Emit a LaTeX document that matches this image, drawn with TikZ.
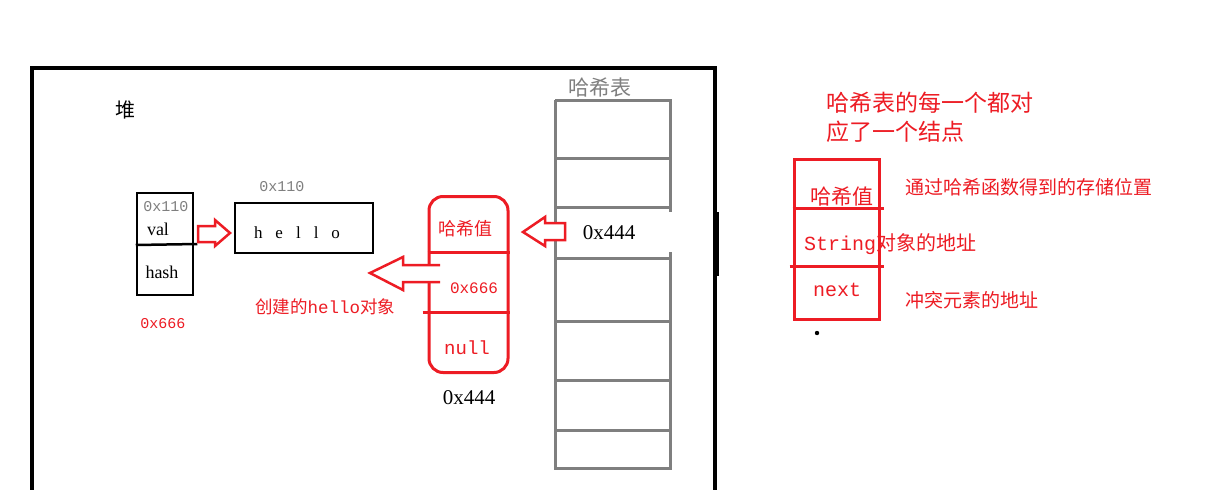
\documentclass[tikz,border=0pt]{standalone}
\usepackage{fontspec}
\setmainfont{Liberation Serif}
\newfontfamily\cjk{Noto Sans CJK SC}
\newfontfamily\mono{Liberation Mono}
\definecolor{pred}{HTML}{ED1C24}
\definecolor{pgray}{HTML}{7F7F7F}
\tikzset{
  blkbox/.style={draw=black, line width=2.5pt, inner sep=0pt},
  redbox/.style={draw=pred, line width=3pt, inner sep=0pt},
  hollowarrow/.style={draw=pred, line width=2.5pt, line join=miter, fill=white},
  gline/.style={draw=pgray, line width=3pt},
  lbl/.style={inner sep=0pt, anchor=center},
  redtxt/.style={lbl, text=pred},
}
\begin{document}
\begin{tikzpicture}[x=1pt,y=-1pt]
\useasboundingbox (0,0) rectangle (1205,490);
\fill[white] (0,0) rectangle (1205,490);

% heap border
\draw[line width=4pt] (32,495) -- (32,68) -- (715,68) -- (715,495);
\draw[line width=3pt] (717.5,212) -- (717.5,276);
\node[lbl, font=\cjk\fontsize{20}{22}\selectfont] (heap) at (125,110) {堆};

% object node (val / hash)
\node[blkbox, minimum width=56pt, minimum height=102pt] (obj) at (165,244) {};
\draw[line width=2.5pt] (obj.west |- 0,245) -- ([xshift=3pt]obj.east |- 0,244);
\node[lbl, text=pgray, font=\mono\fontsize{15}{17}\selectfont] (objaddr) at (166,207) {0x110};
\node[lbl, font=\fontsize{18}{20}\selectfont] (val) at (158,229) {val};
\node[lbl, font=\fontsize{18}{20}\selectfont] (hash) at (162,272) {hash};
\node[redtxt, font=\mono\fontsize{15}{17}\selectfont] (o666) at (163,324) {0x666};

% hello string
\node[blkbox, minimum width=138pt, minimum height=50pt] (hello) at (304,228) {};
\node[lbl, font=\fontsize{17}{19}\selectfont] (hellotxt) at (297,233) {h\hspace{13pt}e\hspace{13pt}l\hspace{13pt}l\hspace{13pt}o};
\node[lbl, text=pgray, font=\mono\fontsize{15}{17}\selectfont] (helloaddr) at (282,187) {0x110};

% arrow val -> hello
\draw[hollowarrow] (198,226) -- (215,226) -- (215,220) -- (230,233) -- (215,246) -- (215,242) -- (198,242) -- cycle;

% red hash-node
\node[draw=pred, line width=3pt, rounded corners=14pt, minimum width=79pt, minimum height=176pt, inner sep=0pt] (rn) at (468.5,284.5) {};
\draw[draw=pred, line width=3pt] (rn.west |- 0,252) -- (rn.east |- 0,252);
\draw[draw=pred, line width=3pt] ([xshift=-5pt]rn.west |- 0,312) -- (rn.east |- 0,312);
\node[redtxt, font=\cjk\fontsize{18}{20}\selectfont] (hv) at (465,229) {哈希值};
\node[redtxt, font=\mono\fontsize{16}{18}\selectfont] (r666) at (474,288) {0x666};
\node[redtxt, font=\mono\fontsize{19}{21}\selectfont] (rnull) at (467,348) {null};
\node[lbl, font=\fontsize{21}{23}\selectfont] (r444) at (469,398) {0x444};

% big arrow to hello
\draw[hollowarrow] (440,265) -- (403,265) -- (403,257) -- (370,273) -- (403,290) -- (403,282) -- (440,282);
\node[redtxt, font=\fontsize{17.5}{19}\selectfont, anchor=west] (created) at (255,307) {{\cjk 创建的}{\mono hello}{\cjk 对象}};

% hash table column
\node[lbl, text=pgray, font=\cjk\fontsize{21}{23}\selectfont] (httitle) at (600,88) {哈希表};
\draw[gline] (555,100) -- (555,468) -- (670,468) -- (670,250);
\draw[gline] (670,216) -- (670,100) -- (555,100);
\foreach \yy in {158,207,258,321,380,430} {
  \draw[gline] (555,\yy) -- (670,\yy);
}
\fill[white] (557,212) rectangle (672,252);
\draw[gline] (555,208) -- (555,258);
\node[lbl, font=\fontsize{21}{23}\selectfont] (t444) at (609,233) {0x444};

% arrow 0x444 -> hash value
\draw[hollowarrow] (565,223) -- (545,223) -- (545,217) -- (523,232) -- (545,246) -- (545,240) -- (565,240) -- cycle;

% right explanation
\node[redtxt, font=\cjk\fontsize{23}{25}\selectfont, anchor=west] (note1) at (826,103) {哈希表的每一个都对};
\node[redtxt, font=\cjk\fontsize{23}{25}\selectfont, anchor=west] (note2) at (826,132) {应了一个结点};

\node[redbox, minimum width=85pt, minimum height=160pt] (ent) at (836.5,239) {};
\draw[draw=pred, line width=3pt] (ent.west |- 0,208) -- ([xshift=3pt]ent.east |- 0,208);
\draw[draw=pred, line width=3pt] ([xshift=-3pt]ent.west |- 0,266) -- ([xshift=3pt]ent.east |- 0,266);
\node[redtxt, font=\cjk\fontsize{21}{23}\selectfont] (ehv) at (842,197) {哈希值};
\node[redtxt, anchor=west] (estr) at (804,244) {{\mono\fontsize{20}{22}\selectfont String}{\cjk\fontsize{20}{22}\selectfont 对象的地址}};
\node[redtxt, font=\mono\fontsize{20}{22}\selectfont] (enext) at (837,290) {next};
\node[redtxt, font=\cjk\fontsize{19}{21}\selectfont, anchor=west] (ann1) at (905,187) {通过哈希函数得到的存储位置};
\node[redtxt, font=\cjk\fontsize{19}{21}\selectfont, anchor=west] (ann2) at (905,300) {冲突元素的地址};
\fill[black] (817,333) circle (2.2pt);
\end{tikzpicture}
\end{document}
